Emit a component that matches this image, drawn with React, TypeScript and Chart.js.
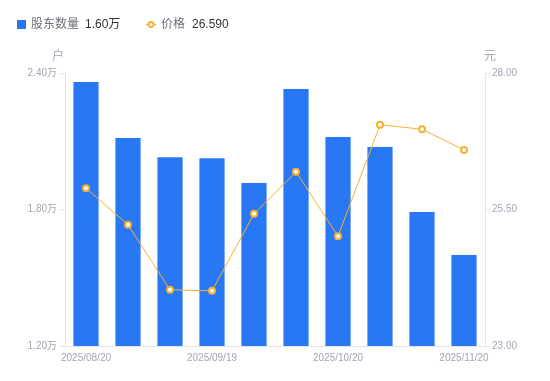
import React, { useEffect, useRef } from "react";
import { Chart, registerables } from "chart.js";

Chart.register(...registerables);

const dates = ["2025/08/20", "2025/08/31", "2025/09/10", "2025/09/19", "2025/09/30", "2025/10/10", "2025/10/20", "2025/10/31", "2025/11/10", "2025/11/20"];
const holders = [2.36, 2.114, 2.03, 2.025, 1.916, 2.33, 2.119, 2.075, 1.789, 1.60];
const prices = [25.89, 25.22, 24.03, 24.01, 25.42, 26.19, 25.01, 27.05, 26.97, 26.59];
const leftTicks = [1.2, 1.8, 2.4];
const rightTicks = [23, 25.5, 28];

const FONT = "'Liberation Sans', 'Noto Sans CJK SC', sans-serif";
const BLUE = "#2878f5";
const ORANGE = "#f8b032";
const TICK = "#a3a6b4";

const overlay = {
  id: "overlay",
  afterDraw(chart: any) {
    const ctx = chart.ctx;
    ctx.save();
    ctx.textBaseline = "middle";
    ctx.font = `12px ${FONT}`;
    // legend 1
    ctx.fillStyle = BLUE;
    ctx.fillRect(17, 20, 9, 9);
    ctx.fillStyle = "#6b6e7a";
    ctx.textAlign = "left";
    ctx.fillText("股东数量", 31, 25);
    ctx.fillStyle = "#333333";
    ctx.fillText(holders[holders.length - 1].toFixed(2) + "万", 85, 25);
    // legend 2
    ctx.strokeStyle = ORANGE;
    ctx.lineWidth = 1.5;
    ctx.beginPath();
    ctx.moveTo(146, 24.5);
    ctx.lineTo(156, 24.5);
    ctx.stroke();
    ctx.beginPath();
    ctx.arc(151, 24.5, 2.5, 0, Math.PI * 2);
    ctx.fillStyle = "#fff";
    ctx.fill();
    ctx.lineWidth = 1.8;
    ctx.stroke();
    ctx.fillStyle = "#6b6e7a";
    ctx.fillText("价格", 161, 25);
    ctx.fillStyle = "#333333";
    ctx.fillText(prices[prices.length - 1].toFixed(3), 192, 25);
    // units
    ctx.font = `12px ${FONT}`;
    ctx.fillStyle = TICK;
    ctx.textAlign = "center";
    ctx.fillText("户", 58, 57);
    ctx.fillText("元", 490, 57);
    ctx.restore();
  },
};

export default function App() {
  const ref = useRef<HTMLCanvasElement | null>(null);
  useEffect(() => {
    document.body.style.margin = "0";
    const chart = new Chart(ref.current as HTMLCanvasElement, {
      type: "bar",
      data: {
        labels: dates,
        datasets: [
          {
            type: "line",
            label: "价格",
            data: prices,
            yAxisID: "y1",
            borderColor: ORANGE,
            borderWidth: 1,
            pointRadius: 3,
            pointBorderWidth: 2,
            pointBackgroundColor: "#ffffff",
            pointBorderColor: ORANGE,
            tension: 0,
            order: 0,
          } as any,
          {
            type: "bar",
            label: "股东数量",
            data: holders,
            yAxisID: "y",
            backgroundColor: BLUE,
            barPercentage: 0.6,
            categoryPercentage: 1,
            order: 1,
          },
        ],
      },
      options: {
        animation: false,
        responsive: false,
        maintainAspectRatio: false,
        layout: { padding: { top: 73, left: 0, right: 0, bottom: 0 } },
        plugins: { legend: { display: false }, tooltip: { enabled: false } },
        scales: {
          x: {
            grid: { display: false, drawTicks: true, tickLength: 2 },
            border: { display: true, color: "#e3e4e8" },
            afterFit: (s: any) => { s.height = 35; },
            ticks: {
              autoSkip: false,
              maxRotation: 0,
              padding: 4,
              color: TICK,
              font: { size: 10, family: FONT },
              callback: (_v: any, i: number) => (i % 3 === 0 ? dates[i] : ""),
            },
          },
          y: {
            position: "left",
            min: 1.2,
            max: 2.4,
            afterFit: (s: any) => { s.width = 65; },
            afterBuildTicks: (s: any) => { s.ticks = leftTicks.map((v) => ({ value: v })); },
            grid: { drawOnChartArea: false, drawTicks: true, tickLength: 5, color: "#e3e4e8" },
            border: { display: true, color: "#e3e4e8" },
            ticks: {
              padding: 3,
              color: TICK,
              font: { size: 10, family: FONT },
              callback: (v: any) => Number(v).toFixed(2) + "万",
            },
          },
          y1: {
            position: "right",
            min: 23,
            max: 28,
            afterFit: (s: any) => { s.width = 65; },
            afterBuildTicks: (s: any) => { s.ticks = rightTicks.map((v) => ({ value: v })); },
            grid: { drawOnChartArea: false, drawTicks: true, tickLength: 5, color: "#e3e4e8" },
            border: { display: true, color: "#e3e4e8" },
            ticks: {
              padding: 2,
              color: TICK,
              font: { size: 10, family: FONT },
              callback: (v: any) => Number(v).toFixed(2),
            },
          },
        },
      },
      plugins: [overlay],
    });
    return () => chart.destroy();
  }, []);
  return (
    <div style={{ width: 550, height: 381 }}>
      <canvas ref={ref} width={550} height={381} style={{ display: "block" }} />
    </div>
  );
}
